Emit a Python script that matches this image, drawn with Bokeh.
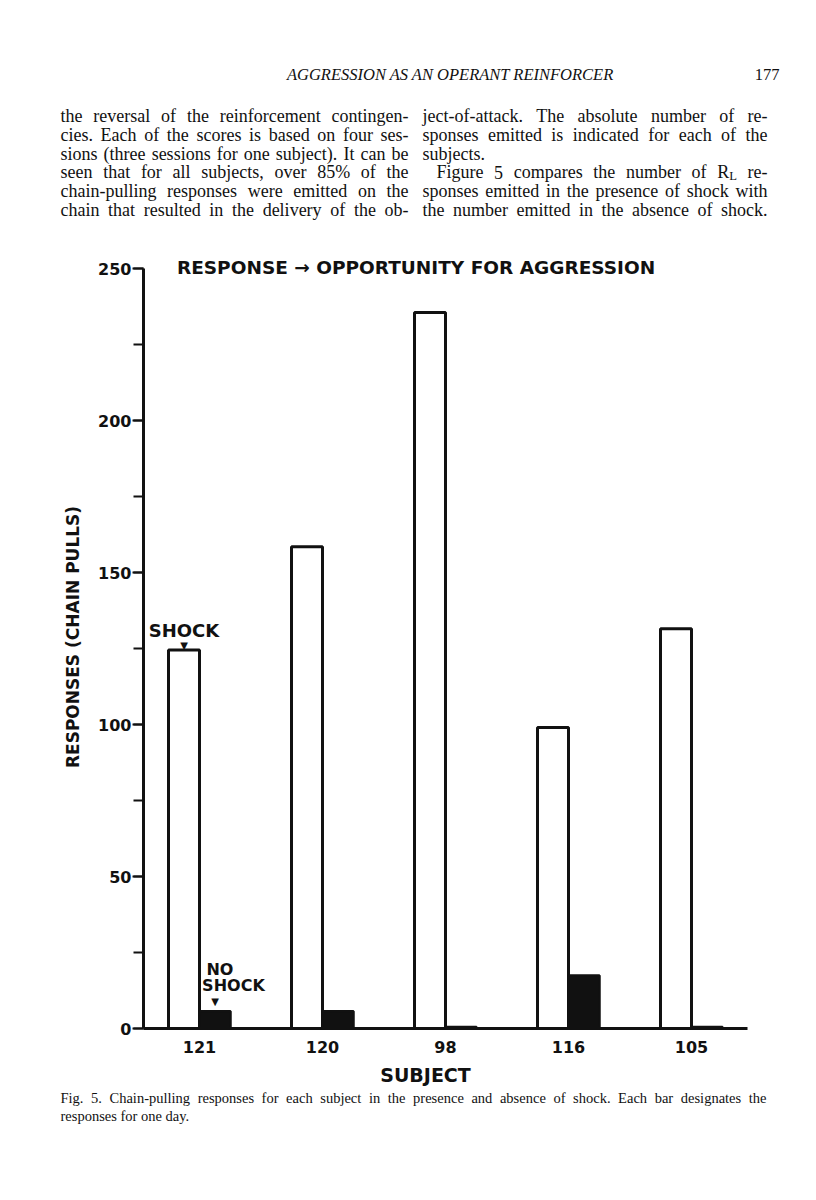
from bokeh.plotting import figure
from bokeh.layouts import column
from bokeh.models import Range1d, Label, FixedTicker, SingleIntervalTicker
from bokeh.embed import file_html
from bokeh.resources import INLINE

# ---------------- data ----------------
subjects = ["121", "120", "98", "116", "105"]
shock = [124.5, 158.5, 235.5, 99.0, 131.5]
no_shock = [5.7, 5.7, 0.5, 17.4, 0.5]
y_tick_step = 50
y_max = 250

chart_title = "RESPONSE \u2192 OPPORTUNITY  FOR  AGGRESSION"
y_label = "RESPONSES (CHAIN PULLS)"
x_label = "SUBJECT"

running_head = "AGGRESSION AS AN OPERANT REINFORCER"
page_number = "177"
left_col = [
    "the reversal of the reinforcement contingen-",
    "cies. Each of the scores is based on four ses-",
    "sions (three sessions for one subject). It can be",
    "seen that for all subjects, over 85% of the",
    "chain-pulling responses were emitted on the",
    "chain that resulted in the delivery of the ob-",
]
right_col = [
    "ject-of-attack. The absolute number of re-",
    "sponses emitted is indicated for each of the",
    "subjects.",
    "Figure 5 compares the number of R_L re-",
    "sponses emitted in the presence of shock with",
    "the number emitted in the absence of shock.",
]
right_justify = [True, True, False, True, True, True]
right_indent = [0, 0, 0, 14, 0, 0]
caption = [
    "Fig. 5. Chain-pulling responses for each subject in the presence and absence of shock. Each bar designates the",
    "responses for one day.",
]

# ---------------- layout ----------------
W = 800
TOP_H = 245            # page 0..245  : running head + body text
CHART_END = 1062       # page 245..1062 : chart
BOT_END = 1184         # page 1062..1184 : x label + caption
FL, FR = 143, 747      # chart frame left/right (page px)
F_BOT = 1028           # chart frame bottom = x axis (page px)
Y250 = 268             # page y of the top tick
X0, X1 = 0.5447, 5.4553
PPU = (F_BOT - Y250) / y_max
Y_END = y_max + (Y250 - TOP_H) / PPU
INK = "#111111"
BAR_W = 0.252


def no_align(f):
    try:
        f.frame_align = False
    except Exception:
        pass


def blank(height, y_top):
    f = figure(width=W, height=height, x_range=Range1d(0, W),
               y_range=Range1d(y_top + height, y_top), output_backend="svg",
               toolbar_location=None, x_axis_location=None, y_axis_location=None,
               min_border=0)
    f.grid.visible = False
    f.outline_line_color = None
    f.background_fill_color = "white"
    f.border_fill_color = "white"
    no_align(f)
    return f


top = blank(TOP_H, 0)
bot = blank(BOT_END - CHART_END, CHART_END)

p = figure(width=W, height=CHART_END - TOP_H, x_range=Range1d(X0, X1),
           y_range=Range1d(0, Y_END), output_backend="svg", toolbar_location=None,
           min_border_left=FL, min_border_right=W - FR, min_border_top=0,
           min_border_bottom=CHART_END - F_BOT)
p.grid.visible = False
p.outline_line_color = None
p.background_fill_color = "white"
p.border_fill_color = "white"
no_align(p)


def dx(xp):   # page px -> chart data x
    return X0 + (xp - FL) * (X1 - X0) / (FR - FL)


def dy(yp):   # page px -> chart data y
    return (F_BOT - yp) / PPU


pos = list(range(1, len(subjects) + 1))
p.vbar(x=[i - BAR_W / 2 for i in pos], width=BAR_W, top=shock, bottom=0,
       fill_color="white", line_color=INK, line_width=3)
p.vbar(x=[i + BAR_W / 2 for i in pos], width=BAR_W, top=no_shock, bottom=0,
       fill_color=INK, line_color=INK, line_width=2.5)

# y axis
ya = p.yaxis[0]
ya.ticker = SingleIntervalTicker(interval=y_tick_step, num_minor_ticks=2)
ya.bounds = (0, y_max)
ya.axis_line_width = 3
ya.axis_line_color = INK
ya.major_tick_out = 11
ya.major_tick_in = 0
ya.minor_tick_out = 10
ya.minor_tick_in = 0
ya.major_tick_line_width = 2
ya.minor_tick_line_width = 2
ya.major_tick_line_color = INK
ya.minor_tick_line_color = INK
ya.major_label_text_font = "DejaVu Sans"
ya.major_label_text_font_style = "bold"
ya.major_label_text_font_size = "16px"
ya.major_label_text_color = INK
ya.major_label_standoff = 1
ya.axis_label = y_label
ya.axis_label_text_font = "DejaVu Sans"
ya.axis_label_text_font_style = "bold"
ya.axis_label_text_font_size = "17px"
ya.axis_label_text_color = INK
ya.axis_label_standoff = 12

# x axis
xa = p.xaxis[0]
xa.ticker = FixedTicker(ticks=pos, minor_ticks=[])
xa.major_label_overrides = {i: s for i, s in zip(pos, subjects)}
xa.axis_line_width = 3
xa.axis_line_color = INK
xa.major_tick_line_color = None
xa.minor_tick_line_color = None
xa.major_tick_out = 0
xa.major_tick_in = 0
xa.major_label_text_font = "DejaVu Sans"
xa.major_label_text_font_style = "bold"
xa.major_label_text_font_size = "16px"
xa.major_label_text_color = INK
xa.major_label_standoff = 12

# ---------------- text helpers ----------------
TW = {
    'a': 444, 'b': 500, 'c': 444, 'd': 500, 'e': 444, 'f': 333, 'g': 500, 'h': 500, 'i': 278,
    'j': 278, 'k': 500, 'l': 278, 'm': 778, 'n': 500, 'o': 500, 'p': 500, 'q': 500, 'r': 333,
    's': 389, 't': 278, 'u': 500, 'v': 500, 'w': 722, 'x': 500, 'y': 500, 'z': 444,
    'A': 722, 'B': 667, 'C': 667, 'D': 722, 'E': 611, 'F': 556, 'G': 722, 'H': 722, 'I': 333,
    'J': 389, 'K': 722, 'L': 611, 'M': 889, 'N': 722, 'O': 722, 'P': 556, 'Q': 722, 'R': 667,
    'S': 556, 'T': 611, 'U': 722, 'V': 722, 'W': 944, 'X': 722, 'Y': 722, 'Z': 611,
    ' ': 250, '.': 250, ',': 250, '-': 333, '(': 333, ')': 333, '%': 833, ':': 278, ';': 278,
}


def tw(s, size):
    return sum(TW.get(c, 500) for c in s) * size / 1000.0


def put(fig, text, x, y, size, font="Liberation Serif", style="normal", align="left",
        baseline="alphabetic", x_off=0, y_off=0):
    fig.add_layout(Label(x=x, y=y, text=text, text_font=font,
                         text_font_style=style, text_font_size=f"{size}px",
                         text_align=align, text_baseline=baseline, text_color=INK,
                         x_offset=x_off, y_offset=y_off))


def set_line(fig, line, xl, xr, yp, size, justify=True):
    words = line.split(" ")
    widths = []
    for wd in words:
        if "_" in wd:
            b, s = wd.split("_")
            widths.append(tw(b, size) + tw(s, size * 0.7))
        else:
            widths.append(tw(wd, size))
    ngap = 250 * size / 1000.0
    if justify and len(words) > 1:
        gap = max((xr - xl - sum(widths)) / (len(words) - 1), ngap * 0.6)
    else:
        gap = ngap
    x = xl
    for k, (wd, wdt) in enumerate(zip(words, widths)):
        last = justify and k == len(words) - 1 and len(words) > 1
        if "_" in wd:
            b, s = wd.split("_")
            put(fig, b, x, yp, size)
            put(fig, s, x + tw(b, size), yp + 4, round(size * 0.7, 1))
        elif last:
            put(fig, wd, xr, yp, size, align="right")
        else:
            put(fig, wd, x, yp, size)
        x += wdt + gap


# running head
put(top, running_head, 450, 74, 16.5, style="italic", align="center")
put(top, page_number, 779, 74, 16.5, align="right")

# body columns
for i, line in enumerate(left_col):
    set_line(top, line, 60, 408, 115.5 + 18.8 * i, 18)
for i, line in enumerate(right_col):
    set_line(top, line, 422 + right_indent[i], 767, 115.5 + 18.8 * i, 18,
             justify=right_justify[i])

# chart title
put(p, chart_title, dx(422), dy(267), 18.5, font="DejaVu Sans", style="bold",
    align="center", baseline="middle")

# x label and caption
put(bot, x_label, 425, 1074, 19, font="DejaVu Sans", style="bold", align="center",
    baseline="middle")
set_line(bot, caption[0], 60, 766, 1097, 14.5)
set_line(bot, caption[1], 60, 766, 1115, 14.5, justify=False)

# annotations anchored to the first subject's bars
sx = pos[0] - BAR_W / 2
nx = pos[0] + BAR_W / 2
put(p, "SHOCK", sx, shock[0], 18, font="DejaVu Sans", style="bold", align="center", y_off=20)
put(p, "\u25BC", sx, shock[0], 10, font="DejaVu Sans", align="center", y_off=5)
put(p, "NO", nx + 0.04, no_shock[0], 16, font="DejaVu Sans", style="bold", align="center", y_off=42)
put(p, "SHOCK", nx + 0.15, no_shock[0], 16, font="DejaVu Sans", style="bold", align="center", y_off=26)
put(p, "\u25BC", nx, no_shock[0], 10, font="DejaVu Sans", align="center", y_off=10)

page = column(column(top), column(p), column(bot), spacing=0)
open("out.html", "w").write(file_html(page, INLINE))
